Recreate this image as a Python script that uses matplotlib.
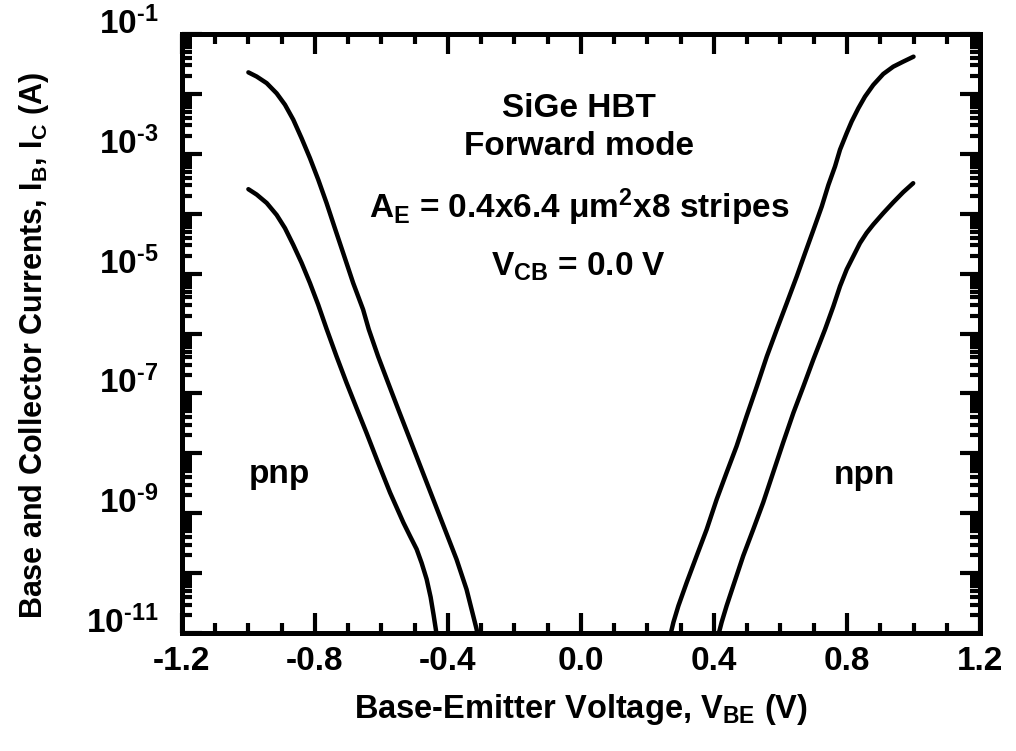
import numpy as np
import matplotlib
matplotlib.use("Agg")
import matplotlib.pyplot as plt
from matplotlib.ticker import FixedLocator, MultipleLocator, FuncFormatter

plt.rcParams['font.family'] = ['Liberation Sans', 'DejaVu Sans']
plt.rcParams['font.weight'] = 'bold'
plt.rcParams['mathtext.fontset'] = 'custom'
plt.rcParams['mathtext.rm'] = 'Liberation Sans:bold'
plt.rcParams['mathtext.it'] = 'Liberation Sans:bold'
plt.rcParams['mathtext.bf'] = 'Liberation Sans:bold'
plt.rcParams['mathtext.default'] = 'regular'

# npn: V_BE (V) and log10 of current (A)
npn_vc = [0.266, 0.278, 0.293, 0.318, 0.348, 0.378, 0.408, 0.438, 0.468, 0.498,
          0.529, 0.559, 0.589, 0.619, 0.649, 0.674, 0.699, 0.724, 0.744, 0.764,
          0.779, 0.799, 0.814, 0.834, 0.854, 0.879, 0.909, 0.939, 0.969, 1.0]
npn_logic = [-11.1, -10.82, -10.545, -10.155, -9.71, -9.27, -8.77, -8.32, -7.88, -7.38,
             -6.88, -6.38, -5.93, -5.49, -5.045, -4.655, -4.27, -3.88, -3.52, -3.21,
             -2.93, -2.655, -2.46, -2.24, -2.045, -1.85, -1.667, -1.545, -1.461, -1.378]
npn_vb = [0.41, 0.423, 0.438, 0.458, 0.488, 0.518, 0.548, 0.578, 0.608, 0.639,
          0.669, 0.699, 0.734, 0.759, 0.779, 0.799, 0.819, 0.839, 0.859, 0.879,
          0.909, 0.939, 0.969, 0.999]
npn_logib = [-11.1, -10.82, -10.545, -10.21, -9.71, -9.27, -8.82, -8.32, -7.82, -7.32,
             -6.88, -6.43, -5.93, -5.545, -5.21, -4.93, -4.71, -4.49, -4.32, -4.18,
             -3.99, -3.81, -3.64, -3.49]

# pnp
pnp_vc = [-1.0, -0.975, -0.945, -0.915, -0.890, -0.865, -0.840, -0.815, -0.790, -0.765,
          -0.740, -0.715, -0.685, -0.655, -0.638, -0.610, -0.580, -0.549, -0.514, -0.479,
          -0.444, -0.409, -0.374, -0.344, -0.324, -0.314, -0.308]
pnp_logic = [-1.64, -1.71, -1.82, -1.99, -2.18, -2.43, -2.74, -3.07, -3.43, -3.82,
             -4.24, -4.655, -5.155, -5.6, -5.93, -6.38, -6.82, -7.27, -7.77, -8.27,
             -8.77, -9.27, -9.77, -10.27, -10.71, -10.93, -11.1]
pnp_vb = [-1.0, -0.975, -0.945, -0.915, -0.890, -0.865, -0.840, -0.815, -0.790, -0.765,
          -0.735, -0.705, -0.675, -0.645, -0.610, -0.574, -0.534, -0.514, -0.494, -0.479,
          -0.464, -0.452, -0.443, -0.436, -0.432]
pnp_logib = [-3.59, -3.68, -3.82, -4.02, -4.24, -4.52, -4.82, -5.155, -5.52, -5.92,
             -6.38, -6.82, -7.24, -7.655, -8.155, -8.655, -9.155, -9.38, -9.6, -9.83,
             -10.1, -10.4, -10.7, -10.95, -11.1]

x_ticks = [-1.2, -0.8, -0.4, 0.0, 0.4, 0.8, 1.2]
y_decades = [10.0**k for k in range(-11, 0)]

fig = plt.figure(figsize=(10.16, 7.51), dpi=100)
ax = fig.add_axes([0.179, 0.157, 0.7856, 0.7977])

for v, logi in [(npn_vc, npn_logic), (npn_vb, npn_logib), (pnp_vc, pnp_logic), (pnp_vb, pnp_logib)]:
    ax.plot(v, 10.0 ** np.array(logi), color='black', lw=3.2,
            solid_capstyle='round', solid_joinstyle='round')

ax.set_yscale('log')
ax.set_xlim(-1.2, 1.2)
ax.set_ylim(1e-11, 1e-1)

ax.xaxis.set_major_locator(FixedLocator(x_ticks))
ax.xaxis.set_minor_locator(MultipleLocator(0.1))
ax.xaxis.set_major_formatter(FuncFormatter(lambda v, p: f"{v:.1f}"))

ax.yaxis.set_major_locator(FixedLocator(y_decades))
minor = [m * d for d in y_decades[:-1] for m in range(2, 10)]
ax.yaxis.set_minor_locator(FixedLocator(minor))


def ylab(v, p):
    e = int(round(np.log10(v)))
    return r"10$^{\text{-%d}}$" % abs(e) if e % 2 else ""


ax.yaxis.set_major_formatter(FuncFormatter(ylab))
ax.yaxis.set_minor_formatter(FuncFormatter(lambda v, p: ""))

for s in ax.spines.values():
    s.set_linewidth(3.6)

ax.tick_params(which='both', direction='in', top=True, right=True, labelsize=24)
ax.tick_params(which='major', length=14.5, width=3.0, pad=9)
ax.tick_params(which='minor', length=7.2, width=3.0)
ax.tick_params(axis='y', which='major', pad=17)
for t in ax.get_yticklabels():
    t.set_verticalalignment('baseline')

fig.text(581 / 1016, 1 - 718 / 751, r"Base-Emitter Voltage, V$_{BE}$ (V)",
         ha='center', va='baseline', fontsize=23.5, fontweight='bold')
fig.text(42 / 1016, 1 - 345 / 751, r"Base and Collector Currents, I$_B$, I$_C$ (A)",
         ha='center', va='baseline', rotation=90, rotation_mode='anchor',
         fontsize=22, fontweight='bold')

notes = [("SiGe HBT", 0.4975, 0.862),
         ("Forward mode", 0.4975, 0.798),
         (r"A$_E$ = 0.4x6.4 μm$^2$x8 stripes", 0.4975, 0.692),
         (r"V$_{CB}$ = 0.0 V", 0.4975, 0.596),
         ("pnp", 0.1216, 0.250),
         ("npn", 0.8546, 0.249)]
for s, x, y in notes:
    ax.text(x, y, s, transform=ax.transAxes, ha='center', va='baseline', fontsize=24)

fig.savefig("out.png", dpi=100)
